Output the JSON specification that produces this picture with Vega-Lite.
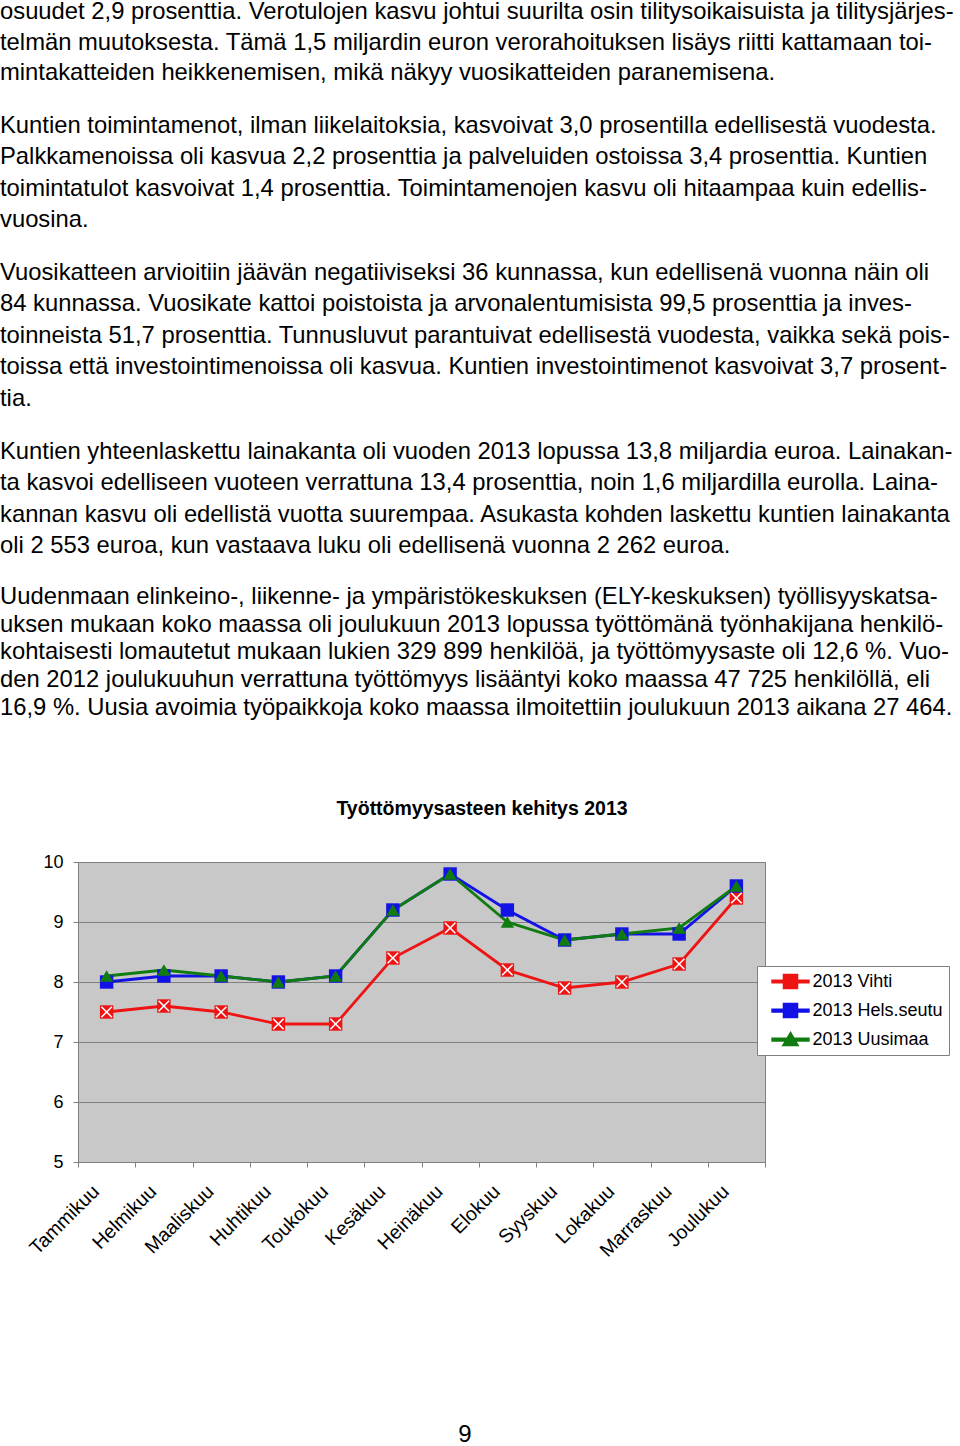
{
  "$schema": "https://vega.github.io/schema/vega-lite/v6.json",
  "background": "white",
  "padding": {"left": 0, "top": -3, "right": 0, "bottom": 0},
  "config": {
    "font": "Liberation Sans",
    "view": {"stroke": null}
  },
  "datasets": {
    "teksti": [
      {"kpl": 1, "rivi": 1, "teksti": "osuudet 2,9 prosenttia. Verotulojen kasvu johtui suurilta osin tilitysoikaisuista ja tilitysjärjes-"},
      {"kpl": 1, "rivi": 2, "teksti": "telmän muutoksesta. Tämä 1,5 miljardin euron verorahoituksen lisäys riitti kattamaan toi-"},
      {"kpl": 1, "rivi": 3, "teksti": "mintakatteiden heikkenemisen, mikä näkyy vuosikatteiden paranemisena."},
      {"kpl": 2, "rivi": 1, "teksti": "Kuntien toimintamenot, ilman liikelaitoksia, kasvoivat 3,0 prosentilla edellisestä vuodesta."},
      {"kpl": 2, "rivi": 2, "teksti": "Palkkamenoissa oli kasvua 2,2 prosenttia ja palveluiden ostoissa 3,4 prosenttia. Kuntien"},
      {"kpl": 2, "rivi": 3, "teksti": "toimintatulot kasvoivat 1,4 prosenttia. Toimintamenojen kasvu oli hitaampaa kuin edellis-"},
      {"kpl": 2, "rivi": 4, "teksti": "vuosina."},
      {"kpl": 3, "rivi": 1, "teksti": "Vuosikatteen arvioitiin jäävän negatiiviseksi 36 kunnassa, kun edellisenä vuonna näin oli"},
      {"kpl": 3, "rivi": 2, "teksti": "84 kunnassa. Vuosikate kattoi poistoista ja arvonalentumisista 99,5 prosenttia ja inves-"},
      {"kpl": 3, "rivi": 3, "teksti": "toinneista 51,7 prosenttia. Tunnusluvut parantuivat edellisestä vuodesta, vaikka sekä pois-"},
      {"kpl": 3, "rivi": 4, "teksti": "toissa että investointimenoissa oli kasvua. Kuntien investointimenot kasvoivat 3,7 prosent-"},
      {"kpl": 3, "rivi": 5, "teksti": "tia."},
      {"kpl": 4, "rivi": 1, "teksti": "Kuntien yhteenlaskettu lainakanta oli vuoden 2013 lopussa 13,8 miljardia euroa. Lainakan-"},
      {"kpl": 4, "rivi": 2, "teksti": "ta kasvoi edelliseen vuoteen verrattuna 13,4 prosenttia, noin 1,6 miljardilla eurolla. Laina-"},
      {"kpl": 4, "rivi": 3, "teksti": "kannan kasvu oli edellistä vuotta suurempaa. Asukasta kohden laskettu kuntien lainakanta"},
      {"kpl": 4, "rivi": 4, "teksti": "oli 2 553 euroa, kun vastaava luku oli edellisenä vuonna 2 262 euroa."},
      {"kpl": 5, "rivi": 1, "teksti": "Uudenmaan elinkeino-, liikenne- ja ympäristökeskuksen (ELY-keskuksen) työllisyyskatsa-"},
      {"kpl": 5, "rivi": 2, "teksti": "uksen mukaan koko maassa oli joulukuun 2013 lopussa työttömänä työnhakijana henkilö-"},
      {"kpl": 5, "rivi": 3, "teksti": "kohtaisesti lomautetut mukaan lukien 329 899 henkilöä, ja työttömyysaste oli 12,6 %. Vuo-"},
      {"kpl": 5, "rivi": 4, "teksti": "den 2012 joulukuuhun verrattuna työttömyys lisääntyi koko maassa 47 725 henkilöllä, eli"},
      {"kpl": 5, "rivi": 5, "teksti": "16,9 %. Uusia avoimia työpaikkoja koko maassa ilmoitettiin joulukuun 2013 aikana 27 464."}
    ],
    "tyottomyys": [
      {"kuukausi": "Tammikuu", "sarja": "2013 Vihti", "arvo": 7.5},
      {"kuukausi": "Helmikuu", "sarja": "2013 Vihti", "arvo": 7.6},
      {"kuukausi": "Maaliskuu", "sarja": "2013 Vihti", "arvo": 7.5},
      {"kuukausi": "Huhtikuu", "sarja": "2013 Vihti", "arvo": 7.3},
      {"kuukausi": "Toukokuu", "sarja": "2013 Vihti", "arvo": 7.3},
      {"kuukausi": "Kesäkuu", "sarja": "2013 Vihti", "arvo": 8.4},
      {"kuukausi": "Heinäkuu", "sarja": "2013 Vihti", "arvo": 8.9},
      {"kuukausi": "Elokuu", "sarja": "2013 Vihti", "arvo": 8.2},
      {"kuukausi": "Syyskuu", "sarja": "2013 Vihti", "arvo": 7.9},
      {"kuukausi": "Lokakuu", "sarja": "2013 Vihti", "arvo": 8.0},
      {"kuukausi": "Marraskuu", "sarja": "2013 Vihti", "arvo": 8.3},
      {"kuukausi": "Joulukuu", "sarja": "2013 Vihti", "arvo": 9.4},
      {"kuukausi": "Tammikuu", "sarja": "2013 Hels.seutu", "arvo": 8.0},
      {"kuukausi": "Helmikuu", "sarja": "2013 Hels.seutu", "arvo": 8.1},
      {"kuukausi": "Maaliskuu", "sarja": "2013 Hels.seutu", "arvo": 8.1},
      {"kuukausi": "Huhtikuu", "sarja": "2013 Hels.seutu", "arvo": 8.0},
      {"kuukausi": "Toukokuu", "sarja": "2013 Hels.seutu", "arvo": 8.1},
      {"kuukausi": "Kesäkuu", "sarja": "2013 Hels.seutu", "arvo": 9.2},
      {"kuukausi": "Heinäkuu", "sarja": "2013 Hels.seutu", "arvo": 9.8},
      {"kuukausi": "Elokuu", "sarja": "2013 Hels.seutu", "arvo": 9.2},
      {"kuukausi": "Syyskuu", "sarja": "2013 Hels.seutu", "arvo": 8.7},
      {"kuukausi": "Lokakuu", "sarja": "2013 Hels.seutu", "arvo": 8.8},
      {"kuukausi": "Marraskuu", "sarja": "2013 Hels.seutu", "arvo": 8.8},
      {"kuukausi": "Joulukuu", "sarja": "2013 Hels.seutu", "arvo": 9.6},
      {"kuukausi": "Tammikuu", "sarja": "2013 Uusimaa", "arvo": 8.1},
      {"kuukausi": "Helmikuu", "sarja": "2013 Uusimaa", "arvo": 8.2},
      {"kuukausi": "Maaliskuu", "sarja": "2013 Uusimaa", "arvo": 8.1},
      {"kuukausi": "Huhtikuu", "sarja": "2013 Uusimaa", "arvo": 8.0},
      {"kuukausi": "Toukokuu", "sarja": "2013 Uusimaa", "arvo": 8.1},
      {"kuukausi": "Kesäkuu", "sarja": "2013 Uusimaa", "arvo": 9.2},
      {"kuukausi": "Heinäkuu", "sarja": "2013 Uusimaa", "arvo": 9.8},
      {"kuukausi": "Elokuu", "sarja": "2013 Uusimaa", "arvo": 9.0},
      {"kuukausi": "Syyskuu", "sarja": "2013 Uusimaa", "arvo": 8.7},
      {"kuukausi": "Lokakuu", "sarja": "2013 Uusimaa", "arvo": 8.8},
      {"kuukausi": "Marraskuu", "sarja": "2013 Uusimaa", "arvo": 8.9},
      {"kuukausi": "Joulukuu", "sarja": "2013 Uusimaa", "arvo": 9.6}
    ]
  },
  "spacing": 162,
  "vconcat": [
    {
      "spacing": 76,
      "vconcat": [
        {
          "spacing": 21,
          "vconcat": [
            {
              "width": 870, "height": 91.5,
              "data": {"name": "teksti"},
              "transform": [{"filter": "datum.kpl == 1"}],
              "mark": {"type": "text", "align": "left", "baseline": "middle", "fontSize": 23.8, "color": "black"},
              "encoding": {"x": {"value": -78}, "y": {"field": "rivi", "type": "ordinal", "axis": null}, "text": {"field": "teksti"}}
            },
            {
              "width": 870, "height": 126,
              "data": {"name": "teksti"},
              "transform": [{"filter": "datum.kpl == 2"}],
              "mark": {"type": "text", "align": "left", "baseline": "middle", "fontSize": 23.8, "color": "black"},
              "encoding": {"x": {"value": -78}, "y": {"field": "rivi", "type": "ordinal", "axis": null}, "text": {"field": "teksti"}}
            },
            {
              "width": 870, "height": 157.5,
              "data": {"name": "teksti"},
              "transform": [{"filter": "datum.kpl == 3"}],
              "mark": {"type": "text", "align": "left", "baseline": "middle", "fontSize": 23.8, "color": "black"},
              "encoding": {"x": {"value": -78}, "y": {"field": "rivi", "type": "ordinal", "axis": null}, "text": {"field": "teksti"}}
            },
            {
              "width": 870, "height": 126,
              "data": {"name": "teksti"},
              "transform": [{"filter": "datum.kpl == 4"}],
              "mark": {"type": "text", "align": "left", "baseline": "middle", "fontSize": 23.8, "color": "black"},
              "encoding": {"x": {"value": -78}, "y": {"field": "rivi", "type": "ordinal", "axis": null}, "text": {"field": "teksti"}}
            },
            {
              "width": 870, "height": 138.75,
              "data": {"name": "teksti"},
              "transform": [{"filter": "datum.kpl == 5"}],
              "mark": {"type": "text", "align": "left", "baseline": "middle", "fontSize": 23.8, "color": "black"},
              "encoding": {"x": {"value": -78}, "y": {"field": "rivi", "type": "ordinal", "axis": null}, "text": {"field": "teksti"}}
            }
          ]
        },
        {
          "width": 687, "height": 300,
          "view": {"fill": "#c8c8c8", "stroke": "#808080", "strokeWidth": 1},
          "title": {"text": "Työttömyysasteen kehitys 2013", "fontSize": 19.5, "fontWeight": "bold", "color": "black", "anchor": "middle", "frame": "group", "offset": 34, "dx": 60.5},
          "data": {"name": "tyottomyys"},
          "encoding": {
            "x": {
              "field": "kuukausi", "type": "ordinal",
              "sort": ["Tammikuu", "Helmikuu", "Maaliskuu", "Huhtikuu", "Toukokuu", "Kesäkuu", "Heinäkuu", "Elokuu", "Syyskuu", "Lokakuu", "Marraskuu", "Joulukuu"],
              "scale": {"type": "band", "paddingInner": 0, "paddingOuter": 0},
              "axis": {"title": null, "labelAngle": -45, "labelAlign": "right", "labelBaseline": "middle", "labelFontSize": 19.5, "labelColor": "black", "labelPadding": 21, "labelOffset": -11, "tickBand": "extent", "tickSize": 5, "tickColor": "#808080", "domainColor": "#808080", "grid": false}
            },
            "y": {
              "field": "arvo", "type": "quantitative",
              "scale": {"domain": [5, 10], "nice": false, "zero": false},
              "axis": {"title": null, "values": [5, 6, 7, 8, 9, 10], "grid": true, "gridColor": "#808080", "gridOpacity": 1, "tickSize": 5, "tickColor": "#808080", "domainColor": "#808080", "labelFontSize": 18, "labelColor": "black", "labelPadding": 10}
            },
            "color": {
              "field": "sarja", "type": "nominal",
              "scale": {"domain": ["2013 Vihti", "2013 Hels.seutu", "2013 Uusimaa"], "range": ["#ee1414", "#1212e6", "#107c10"]},
              "legend": {
                "orient": "none", "legendX": 679, "legendY": 969,
                "title": null, "direction": "vertical",
                "labelFontSize": 18, "labelColor": "black",
                "fillColor": "white", "strokeColor": "#808080", "padding": 5.5,
                "symbolSize": 324, "rowPadding": 7.1, "symbolOffset": 18, "labelOffset": 12,
                "encode": {
                  "symbols": {
                    "update": {
                      "shape": {"signal": "datum.value == '2013 Uusimaa' ? 'M-2.05,-0.15H2.05V0.15H-2.05Z M0,-0.8L0.85,0.65H-0.85Z' : datum.value == '2013 Vihti' ? 'M-2.05,-0.15H-0.78V0.15H-2.05Z M0.78,-0.15H2.05V0.15H0.78Z M-0.78,-0.78H0.78V0.78H-0.78Z M-0.51,-0.6L-0.6,-0.51L-0.09,0L-0.6,0.51L-0.51,0.6L0,0.09L0.51,0.6L0.6,0.51L0.09,0L0.6,-0.51L0.51,-0.6L0,-0.09Z' : 'M-2.05,-0.15H2.05V0.15H-2.05Z M-0.78,-0.78H0.78V0.78H-0.78Z'"},
                      "fill": {"scale": "color", "field": "value"},
                      "stroke": {"value": "transparent"},
                      "opacity": {"value": 1}
                    }
                  }
                }
              }
            }
          },
          "layer": [
            {"mark": {"type": "line", "strokeWidth": 2.8}},
            {
              "transform": [{"filter": "datum.sarja != '2013 Uusimaa'"}],
              "mark": {"type": "point", "filled": true, "opacity": 1, "size": 180, "shape": "square"}
            },
            {
              "transform": [{"filter": "datum.sarja == '2013 Uusimaa'"}],
              "mark": {"type": "point", "filled": true, "opacity": 1, "size": 180, "shape": "triangle-up"}
            },
            {
              "transform": [{"filter": "datum.sarja == '2013 Vihti'"}],
              "mark": {"type": "point", "filled": false, "shape": "M-1,-1L1,1M1,-1L-1,1", "strokeWidth": 1.6, "size": 110, "opacity": 1},
              "encoding": {"color": {"value": "white"}}
            }
          ]
        }
      ]
    },
    {
      "width": 774, "height": 24,
      "data": {"values": [{"sivu": "9"}]},
      "mark": {"type": "text", "fontSize": 24, "color": "black", "align": "center", "baseline": "middle"},
      "encoding": {"text": {"field": "sivu"}}
    }
  ]
}
